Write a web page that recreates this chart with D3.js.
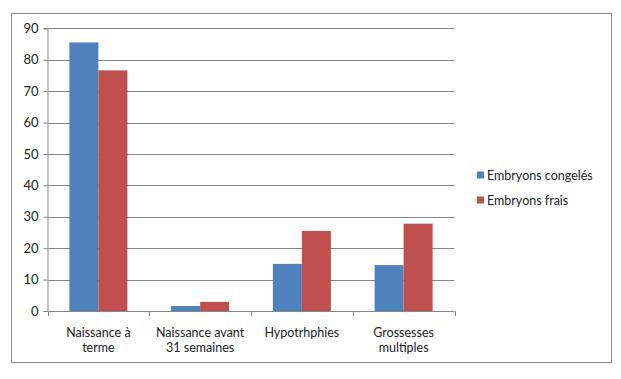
<!DOCTYPE html>
<meta charset="utf-8">
<style>
body { margin: 0; background: #fff; }
svg text { font-family: Lato, "Open Sans", sans-serif; fill: #222; }
</style>
<body>
<svg width="621" height="379"></svg>
<script src="https://cdn.jsdelivr.net/npm/d3@7"></script>
<script>

var categories = [["Naissance à", "terme"], ["Naissance avant", "31 semaines"], ["Hypotrhphies"], ["Grossesses", "multiples"]];
var seriesNames = ["Embryons congelés", "Embryons frais"];
var congeles = [85.5, 1.6, 15.0, 14.6];
var frais = [76.6, 2.9, 25.5, 27.8];
var yTicks = [0, 10, 20, 30, 40, 50, 60, 70, 80, 90];
var colors = ["#4F81BD", "#C0504D"];

var svg = d3.select("svg");

// outer frame
svg.append("rect")
    .attr("x", 11.5).attr("y", 13.5)
    .attr("width", 600).attr("height", 349)
    .attr("fill", "none").attr("stroke", "#8c8c8c");

var plotLeft = 47.5, plotRight = 454.5, plotTop = 28.3, plotBottom = 311;

var x0 = d3.scaleBand()
    .domain(d3.range(categories.length))
    .range([plotLeft, plotRight])
    .paddingInner(0.43)
    .paddingOuter(0.215);

var x1 = d3.scaleBand()
    .domain([0, 1])
    .range([0, x0.bandwidth()]);

var y = d3.scaleLinear()
    .domain([0, 90])
    .range([plotBottom, plotTop]);

// gridlines
svg.append("g")
  .selectAll("line")
  .data(yTicks.slice(1))
  .enter().append("line")
    .attr("x1", plotLeft).attr("x2", plotRight)
    .attr("y1", function(d) { return Math.round(y(d)) + 0.5; })
    .attr("y2", function(d) { return Math.round(y(d)) + 0.5; })
    .attr("stroke", "#868686");

// bars
var rows = categories.map(function(c, i) { return [congeles[i], frais[i]]; });

svg.append("g")
  .selectAll("g")
  .data(rows)
  .enter().append("g")
    .attr("transform", function(d, i) { return "translate(" + x0(i) + ",0)"; })
  .selectAll("rect")
  .data(function(d) { return d; })
  .enter().append("rect")
    .attr("x", function(d, j) { return x1(j); })
    .attr("y", function(d) { return y(d); })
    .attr("width", x1.bandwidth())
    .attr("height", function(d) { return plotBottom - y(d); })
    .attr("fill", function(d, j) { return colors[j]; });

// y axis
var yAxis = svg.append("g")
    .attr("transform", "translate(" + plotLeft + ",0)")
    .call(d3.axisLeft(y).tickValues(yTicks).tickSize(4).tickPadding(5));
yAxis.selectAll("line").attr("stroke", "#868686");
yAxis.select(".domain").attr("stroke", "#868686");
yAxis.selectAll("text").style("font-size", "13px").style("font-family", "Lato, sans-serif").attr("fill", "#222");

// x axis line and category ticks
var step = (plotRight - plotLeft) / categories.length;
svg.append("line")
    .attr("x1", plotLeft).attr("x2", plotRight)
    .attr("y1", plotBottom + 0.5).attr("y2", plotBottom + 0.5)
    .attr("stroke", "#868686");

svg.append("g")
  .selectAll("line")
  .data(d3.range(categories.length + 1))
  .enter().append("line")
    .attr("x1", function(d) { return Math.round(plotLeft + d * step) + 0.5; })
    .attr("x2", function(d) { return Math.round(plotLeft + d * step) + 0.5; })
    .attr("y1", plotBottom).attr("y2", plotBottom + 5)
    .attr("stroke", "#868686");

// category labels
svg.append("g")
  .selectAll("text")
  .data(categories)
  .enter().append("text")
    .attr("x", function(d, i) { return x0(i) + x0.bandwidth() / 2; })
    .attr("y", 337)
    .attr("text-anchor", "middle")
    .style("font-size", "12.5px")
  .selectAll("tspan")
  .data(function(d) { return d; })
  .enter().append("tspan")
    .attr("x", function() { return d3.select(this.parentNode).attr("x"); })
    .attr("dy", function(d, k) { return k === 0 ? 0 : 14.5; })
    .text(function(d) { return d; });

// legend
var legend = svg.append("g")
  .selectAll("g")
  .data(seriesNames)
  .enter().append("g")
    .attr("transform", function(d, i) { return "translate(477," + (175 + i * 25) + ")"; });

legend.append("rect")
    .attr("x", 0).attr("y", -3.5)
    .attr("width", 7).attr("height", 7)
    .attr("fill", function(d, i) { return colors[i]; });

legend.append("text")
    .attr("x", 10).attr("y", 4.5)
    .style("font-size", "12.5px")
    .text(function(d) { return d; });

</script>
</body>
